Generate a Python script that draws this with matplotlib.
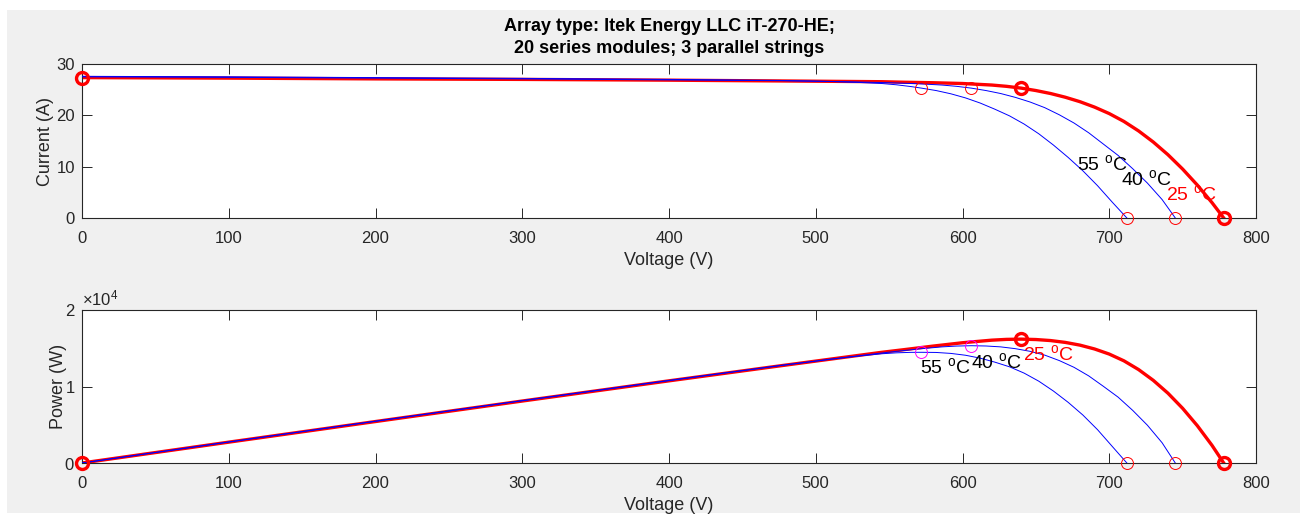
import numpy as np
import matplotlib
matplotlib.use("Agg")
import matplotlib.pyplot as plt
from matplotlib.patches import Rectangle

plt.rcParams['font.family'] = ['Liberation Sans', 'DejaVu Sans']
plt.rcParams['mathtext.fontset'] = 'custom'
plt.rcParams['mathtext.rm'] = 'Liberation Sans'

# I-V data per cell temperature (V in volts, I in amps)
v_25 = [0, 100, 200, 300, 400, 475, 545, 560, 580, 600, 620, 630, 640, 650,
        660, 670, 680, 690, 700, 710, 720, 730, 740, 750, 760, 770, 778]
i_25 = [27.35, 27.25, 27.1, 27.0, 26.85, 26.7, 26.55, 26.45, 26.35, 26.2,
        25.9, 25.65, 25.3, 24.83, 24.25, 23.53, 22.66, 21.6, 20.34, 18.81,
        16.96, 14.8, 12.33, 9.53, 6.42, 3.0, 0.0]

v_40 = [0, 100, 200, 300, 400, 475, 520, 550, 570, 586, 596, 606, 616, 626,
        636, 646, 656, 666, 676, 686, 696, 706, 716, 726, 736, 745]
i_40 = [27.5, 27.4, 27.25, 27.1, 26.9, 26.75, 26.55, 26.35, 26.15, 25.9,
        25.65, 25.3, 24.83, 24.25, 23.5, 22.6, 21.5, 20.1, 18.5, 16.6, 14.4,
        12.2, 9.6, 6.8, 3.6, 0.0]

v_55 = [0, 100, 200, 300, 400, 475, 510, 530, 545, 555, 565, 572, 582, 592,
        602, 612, 622, 632, 642, 652, 662, 672, 682, 692, 702, 712]
i_55 = [27.6, 27.5, 27.35, 27.2, 27.0, 26.8, 26.6, 26.4, 26.2, 25.95, 25.6,
        25.3, 24.83, 24.2, 23.4, 22.4, 21.2, 19.9, 18.3, 16.4, 14.2, 11.8,
        9.2, 6.3, 3.1, 0.0]

# maximum power points and open-circuit voltages (25, 40, 55 degC)
v_mpp = [640, 606, 572]
i_mpp = [25.3, 25.3, 25.3]
v_oc = [778, 745, 712]
i_sc_25 = 27.35

W, H = 1304, 515
fig = plt.figure(figsize=(W / 100, H / 100), dpi=100, facecolor='white')
fig.patches.append(Rectangle((7 / W, 2 / H), 1293 / W, 503 / H,
                             transform=fig.transFigure, facecolor='#f0f0f0',
                             edgecolor='none', zorder=-10))

ax1 = fig.add_axes([82 / W, 1 - 218 / H, 1174 / W, 154 / H])
ax2 = fig.add_axes([82 / W, 1 - 463 / H, 1174 / W, 153 / H])

axcol = '#262626'
red = '#ff0000'
blue = '#0000ff'
ms = 8.6


def style(ax):
    ax.set_facecolor('white')
    ax.set_xlim(0, 800)
    ax.set_xticks(np.arange(0, 801, 100))
    ax.tick_params(direction='in', top=True, right=True, length=7.2,
                   width=0.7, colors=axcol, labelsize=12, pad=5)
    ax.tick_params(axis='x', pad=9)
    for sp in ax.spines.values():
        sp.set_color(axcol)
        sp.set_linewidth(0.8)
    ax.set_xlabel('Voltage (V)', fontsize=13, color=axcol, labelpad=4.5)


curves = [(v_25, i_25), (v_40, i_40), (v_55, i_55)]

# current vs voltage
ax1.plot(v_25, i_25, color=red, lw=2.4, zorder=2)
for v, i in curves[1:]:
    ax1.plot(v, i, color=blue, lw=0.7, zorder=3)
ax1.plot([0, v_mpp[0], v_oc[0]], [i_sc_25, i_mpp[0], 0], 'o', ms=ms,
         mfc='none', mec=red, mew=2.4, clip_on=False, zorder=5)
ax1.plot(v_mpp[1:], i_mpp[1:], 'o', ms=ms, mfc='none', mec=red,
         mew=0.7, clip_on=False, zorder=4)
ax1.plot(v_oc[1:], [0, 0], 'o', ms=ms, mfc='none', mec=red,
         mew=0.7, clip_on=False, zorder=4)
ax1.set_ylim(0, 30)
ax1.set_yticks([0, 10, 20, 30])
ax1.set_ylabel('Current (A)', fontsize=13, color=axcol, labelpad=1.7)
style(ax1)

ax1.text(678, 10.3, r'55 $^{\rm o}$C', fontsize=14, va='center', color='black')
ax1.text(708, 7.4, r'40 $^{\rm o}$C', fontsize=14, va='center', color='black')
ax1.text(739, 4.5, r'25 $^{\rm o}$C', fontsize=14, va='center', color=red)

# power vs voltage
p_curves = [(v, np.array(v) * np.array(i)) for v, i in curves]
ax2.plot(p_curves[0][0], p_curves[0][1], color=red, lw=2.4, zorder=2)
for v, p in p_curves[1:]:
    ax2.plot(v, p, color=blue, lw=0.7, zorder=3)
p_mpp = [v * i for v, i in zip(v_mpp, i_mpp)]
ax2.plot([0, v_mpp[0], v_oc[0]], [0, p_mpp[0], 0], 'o', ms=ms,
         mfc='none', mec=red, mew=2.4, clip_on=False, zorder=5)
ax2.plot(v_mpp[1:], p_mpp[1:], 'o', ms=ms, mfc='none', mec='#ff00ff',
         mew=0.7, clip_on=False, zorder=4)
ax2.plot(v_oc[1:], [0, 0], 'o', ms=ms, mfc='none', mec=red,
         mew=0.7, clip_on=False, zorder=4)
ax2.set_ylim(0, 2e4)
ax2.set_yticks([0, 1e4, 2e4])
ax2.ticklabel_format(axis='y', style='sci', scilimits=(0, 0), useMathText=True)
ax2.yaxis.get_offset_text().set_fontsize(12)
ax2.yaxis.get_offset_text().set_color(axcol)
ax2.set_ylabel('Power (W)', fontsize=13, color=axcol, labelpad=-2)
style(ax2)

ax2.text(571, 12400, r'55 $^{\rm o}$C', fontsize=14, va='center', color='black')
ax2.text(606, 13070, r'40 $^{\rm o}$C', fontsize=14, va='center', color='black')
ax2.text(641, 14100, r'25 $^{\rm o}$C', fontsize=14, va='center', color=red)

ax1.set_title('Array type: Itek Energy LLC iT-270-HE;\n'
              '20 series modules; 3 parallel strings',
              fontsize=13, fontweight='bold', color='black', pad=8,
              linespacing=1.4)

fig.savefig('out.png', dpi=100, facecolor='white')
